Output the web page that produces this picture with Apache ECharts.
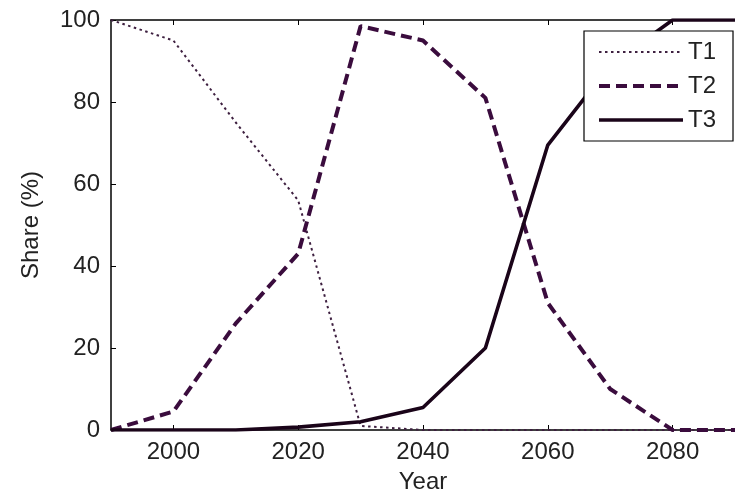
<!DOCTYPE html>
<html>
<head>
<meta charset="utf-8">
<script src="https://cdn.jsdelivr.net/npm/echarts@6/dist/echarts.min.js"></script>
<style>html,body{margin:0;padding:0;background:#fff}#c{width:735px;height:499px}</style>
</head>
<body>
<div id="c"></div>
<script>
const years = [1990, 2000, 2010, 2020, 2030, 2040, 2050, 2060, 2070, 2080, 2090];
const t1 = [100, 95, 75, 56, 1, 0, 0, 0, 0, 0, 0];
const t2 = [0, 4.5, 26, 43, 98.5, 95, 81, 31, 10, 0, 0];
const t3 = [0, 0, 0, 0.7, 2, 5.5, 20, 69.5, 89, 100, 100];
const xTicks = [2000, 2020, 2040, 2060, 2080];
const seriesNames = ['T1', 'T2', 'T3'];

const FONT = 'Liberation Sans';
const FS = 24;
const chart = echarts.init(document.getElementById('c'), null, {renderer: 'canvas'});
const pairs = a => years.map((y, i) => [y, a[i]]);
const axisLine = {show: true, lineStyle: {color: '#000', width: 1.5}};
const lineStyles = [
  {color: '#3e2040', width: 2, type: [2.5, 3.5]},
  {color: '#3a0c3d', width: 4, type: [11, 6]},
  {color: '#1a0419', width: 3.6, type: 'solid'}
];
chart.setOption({
  animation: false,
  backgroundColor: '#fff',
  textStyle: {fontFamily: FONT},
  grid: {left: 111, top: 20, bottom: 65, right: -8, containLabel: false},
  legend: {
    orient: 'vertical', left: 584, top: 31, z: 20,
    itemWidth: 84, itemHeight: 14, itemGap: 10,
    padding: [9, 17, 9, 13],
    backgroundColor: '#fff', borderColor: '#000', borderWidth: 1.2, borderRadius: 0,
    itemStyle: {opacity: 0},
    textStyle: {fontFamily: FONT, fontSize: FS, color: '#222'},
    data: seriesNames.map((n, i) => ({name: n, lineStyle: {width: lineStyles[i].width}}))
  },
  xAxis: [{
    type: 'value', min: 1990, max: 2090,
    name: 'Year', nameLocation: 'middle', nameGap: 40,
    nameTextStyle: {fontFamily: FONT, fontSize: FS, color: '#222'},
    axisLine: axisLine,
    axisTick: {show: true, inside: true, length: 5, customValues: xTicks, lineStyle: {color: '#000', width: 1}},
    axisLabel: {show: true, customValues: xTicks, margin: 10, fontFamily: FONT, fontSize: FS, color: '#222', formatter: v => String(v)},
    splitLine: {show: false}
  }, {
    type: 'value', min: 1990, max: 2090, position: 'top',
    axisLine: axisLine,
    axisTick: {show: true, inside: true, length: 5, customValues: xTicks, lineStyle: {color: '#000', width: 1}},
    axisLabel: {show: false},
    splitLine: {show: false}
  }],
  yAxis: {
    type: 'value', min: 0, max: 100, interval: 20,
    name: 'Share (%)', nameLocation: 'middle', nameGap: 68,
    nameTextStyle: {fontFamily: FONT, fontSize: FS, color: '#222'},
    axisLine: axisLine,
    axisTick: {show: true, inside: true, length: 5, lineStyle: {color: '#000', width: 1}},
    axisLabel: {margin: 11, fontFamily: FONT, fontSize: FS, color: '#222'},
    splitLine: {show: false}
  },
  series: [t1, t2, t3].map((arr, i) => ({
    name: seriesNames[i], type: 'line', data: pairs(arr), symbol: 'none', z: 3 + i,
    lineStyle: lineStyles[i],
    itemStyle: {color: lineStyles[i].color}
  }))
});
</script>
</body>
</html>
